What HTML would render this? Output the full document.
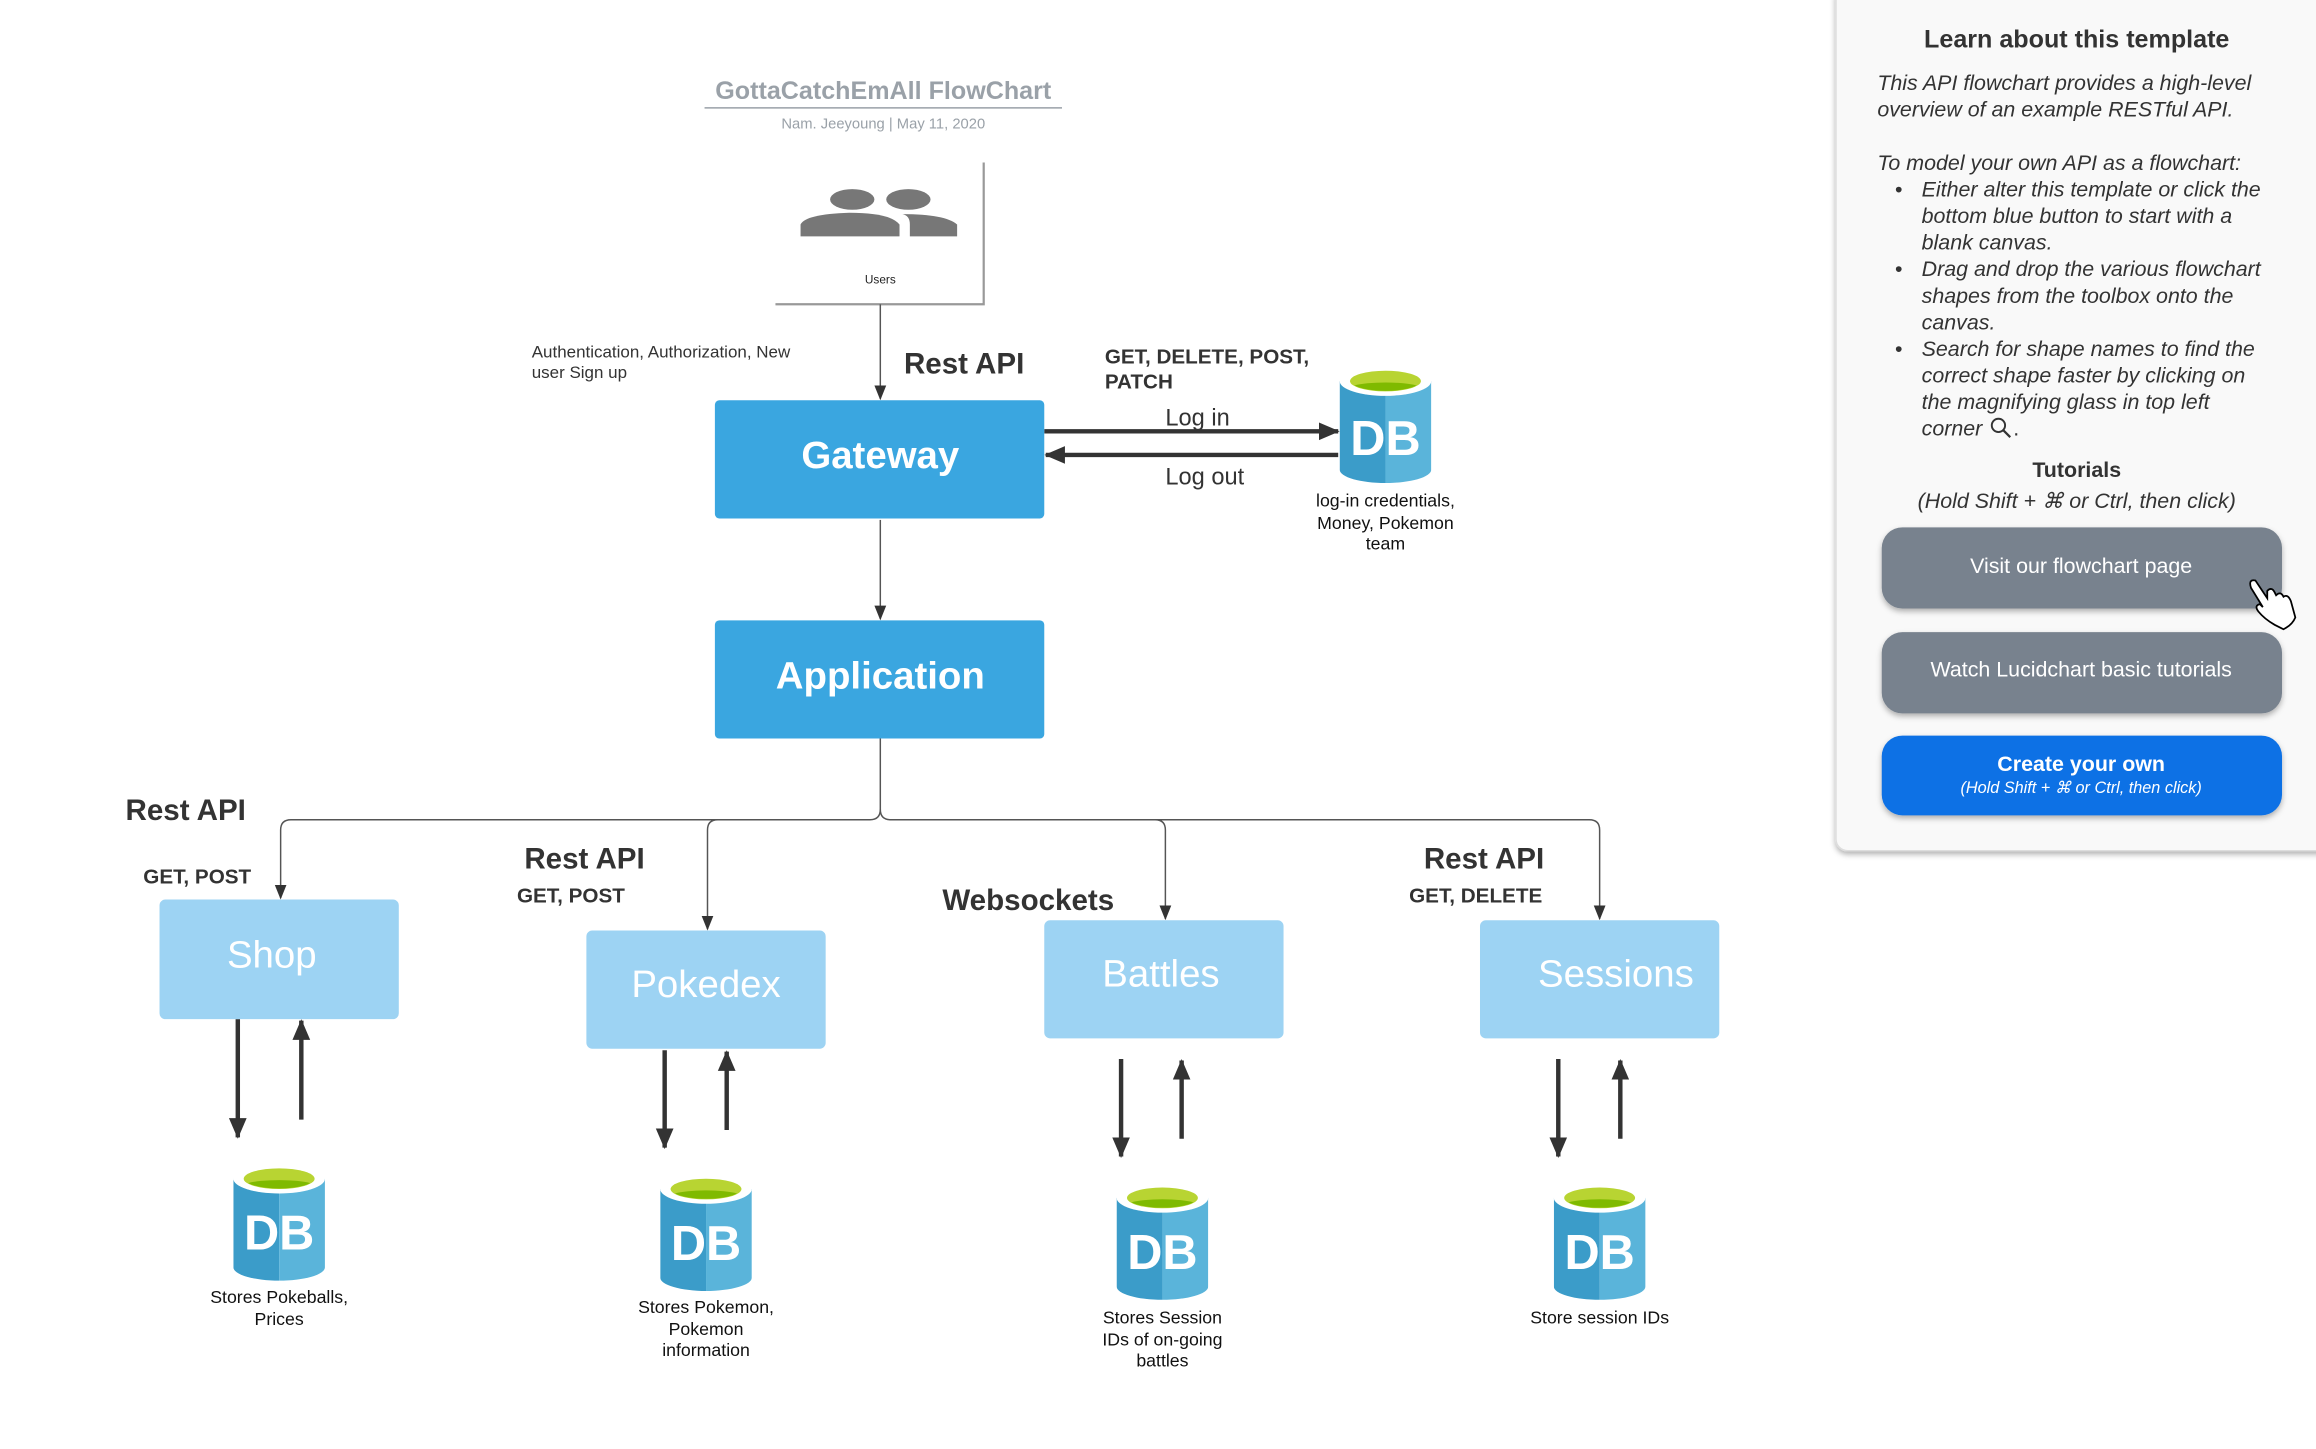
<!DOCTYPE html>
<html><head><meta charset="utf-8"><style>
html,body{margin:0;padding:0;background:#fff}
svg{display:block}
text{font-family:"Liberation Sans",sans-serif}
</style></head><body>
<svg width="2316" height="1449" viewBox="0 0 1568 981" xmlns="http://www.w3.org/2000/svg">
<defs>
<symbol id="db" viewBox="0 0 62 80">
<path d="M0 10 V70 A31 9 0 0 0 31 79 V10 Z" fill="#3b9cc9"/>
<path d="M31 10 V79 A31 9 0 0 0 62 70 V10 Z" fill="#5ab4da"/>
<ellipse cx="31" cy="10" rx="31" ry="10" fill="#fff"/>
<ellipse cx="31" cy="10" rx="24" ry="7" fill="#b8d432"/>
<path d="M10 13 A24 7 0 0 0 52 13 A24 4 0 0 0 10 13Z" fill="#7fba00"/>
</symbol>
<marker id="a" markerWidth="10" markerHeight="10" refX="9" refY="5" orient="auto" markerUnits="userSpaceOnUse"><path d="M0 1 L10 5 L0 9Z" fill="#333"/></marker>
<marker id="b" markerWidth="14" markerHeight="14" refX="13" refY="7" orient="auto" markerUnits="userSpaceOnUse"><path d="M0 1 L14 7 L0 13Z" fill="#333"/></marker>
<filter id="sh" x="-10%" y="-10%" width="130%" height="140%"><feDropShadow dx="0" dy="2" stdDeviation="2" flood-opacity="0.3"/></filter>
</defs>

<!-- title -->
<text x="598" y="67" text-anchor="middle" font-size="17" font-weight="bold" fill="#9aa1a8">GottaCatchEmAll FlowChart</text>
<line x1="477" y1="73" x2="719" y2="73" stroke="#9aa1a8" stroke-width="1"/>
<text x="598" y="87" text-anchor="middle" font-size="10" fill="#9aa1a8">Nam. Jeeyoung    |  May 11, 2020</text>

<!-- users -->
<rect x="525" y="110" width="141" height="96" fill="#fff"/>
<path d="M666 110 V206 H525" fill="none" stroke="#999" stroke-width="1.5"/>
<ellipse cx="577" cy="135" rx="15" ry="7" fill="#777"/>
<ellipse cx="615" cy="135" rx="15" ry="7" fill="#777"/>
<path d="M542 160 V152 Q545 145 575 144 Q603 144 609 152 V160Z" fill="#777"/>
<path d="M616 160 V152 Q616 146 611 145 Q640 145 648 152 V160Z" fill="#777"/>
<text x="596" y="192" text-anchor="middle" font-size="8" fill="#222">Users</text>

<!-- connectors -->
<line x1="596" y1="206" x2="596" y2="270" stroke="#555" stroke-width="1" marker-end="url(#a)"/>
<line x1="596" y1="352" x2="596" y2="419" stroke="#555" stroke-width="1" marker-end="url(#a)"/>
<path d="M596 500 V548 Q596 555 589 555 H197 Q190 555 190 562 V608" fill="none" stroke="#555" stroke-width="1" marker-end="url(#a)"/>
<path d="M596 548 Q596 555 603 555 H1076 Q1083 555 1083 562 V622" fill="none" stroke="#555" stroke-width="1" marker-end="url(#a)"/>
<path d="M486 555 Q479 555 479 562 V629" fill="none" stroke="#555" stroke-width="1" marker-end="url(#a)"/>
<path d="M782 555 Q789 555 789 562 V622" fill="none" stroke="#555" stroke-width="1" marker-end="url(#a)"/>

<line x1="707" y1="292" x2="906" y2="292" stroke="#333" stroke-width="3" marker-end="url(#b)"/>
<line x1="906" y1="308" x2="708" y2="308" stroke="#333" stroke-width="3" marker-end="url(#b)"/>

<g stroke="#333" stroke-width="3">
<line x1="161" y1="690" x2="161" y2="770" marker-end="url(#b)"/>
<line x1="204" y1="758" x2="204" y2="691" marker-end="url(#b)"/>
<line x1="450" y1="711" x2="450" y2="777" marker-end="url(#b)"/>
<line x1="492" y1="765" x2="492" y2="712" marker-end="url(#b)"/>
<line x1="759" y1="717" x2="759" y2="783" marker-end="url(#b)"/>
<line x1="800" y1="771" x2="800" y2="718" marker-end="url(#b)"/>
<line x1="1055" y1="717" x2="1055" y2="783" marker-end="url(#b)"/>
<line x1="1097" y1="771" x2="1097" y2="718" marker-end="url(#b)"/>
</g>

<!-- main boxes -->
<rect x="484" y="271" width="223" height="80" rx="3" fill="#3aa6e0"/>
<text x="596" y="317" text-anchor="middle" font-size="26" font-weight="bold" fill="#fff">Gateway</text>
<rect x="484" y="420" width="223" height="80" rx="3" fill="#3aa6e0"/>
<text x="596" y="466" text-anchor="middle" font-size="26" font-weight="bold" fill="#fff">Application</text>

<rect x="108" y="609" width="162" height="81" rx="4" fill="#9dd3f3"/>
<text x="184" y="655" text-anchor="middle" font-size="26" fill="#fff">Shop</text>
<rect x="397" y="630" width="162" height="80" rx="4" fill="#9dd3f3"/>
<text x="478" y="675" text-anchor="middle" font-size="26" fill="#fff">Pokedex</text>
<rect x="707" y="623" width="162" height="80" rx="4" fill="#9dd3f3"/>
<text x="786" y="668" text-anchor="middle" font-size="26" fill="#fff">Battles</text>
<rect x="1002" y="623" width="162" height="80" rx="4" fill="#9dd3f3"/>
<text x="1094" y="668" text-anchor="middle" font-size="26" fill="#fff">Sessions</text>

<!-- labels -->
<g fill="#333">
<text x="360" y="242" font-size="11.5">Authentication, Authorization, New</text>
<text x="360" y="256" font-size="11.5">user Sign up</text>
<text x="612" y="253" font-size="20" font-weight="bold">Rest API</text>
<text x="748" y="246" font-size="14" font-weight="bold">GET, DELETE, POST,</text>
<text x="748" y="263" font-size="14" font-weight="bold">PATCH</text>
<text x="789" y="288" font-size="16">Log in</text>
<text x="789" y="328" font-size="16">Log out</text>
<text x="85" y="555" font-size="20" font-weight="bold">Rest API</text>
<text x="97" y="598" font-size="14" font-weight="bold">GET, POST</text>
<text x="355" y="588" font-size="20" font-weight="bold">Rest API</text>
<text x="350" y="611" font-size="14" font-weight="bold">GET, POST</text>
<text x="638" y="616" font-size="20" font-weight="bold">Websockets</text>
<text x="964" y="588" font-size="20" font-weight="bold">Rest API</text>
<text x="954" y="611" font-size="14" font-weight="bold">GET, DELETE</text>
</g>

<!-- DBs -->
<use href="#db" x="907" y="248" width="62" height="80"/>
<text x="938" y="308" text-anchor="middle" font-size="33" font-weight="bold" fill="#fff">DB</text>
<g font-size="12" fill="#111" text-anchor="middle">
<text x="938" y="343">log-in credentials,</text><text x="938" y="358">Money, Pokemon</text><text x="938" y="372">team</text>
</g>

<use href="#db" x="158" y="788" width="62" height="80"/>
<text x="189" y="846" text-anchor="middle" font-size="33" font-weight="bold" fill="#fff">DB</text>
<g font-size="12" fill="#111" text-anchor="middle"><text x="189" y="882">Stores Pokeballs,</text><text x="189" y="897">Prices</text></g>

<use href="#db" x="447" y="795" width="62" height="80"/>
<text x="478" y="853" text-anchor="middle" font-size="33" font-weight="bold" fill="#fff">DB</text>
<g font-size="12" fill="#111" text-anchor="middle"><text x="478" y="889">Stores Pokemon,</text><text x="478" y="904">Pokemon</text><text x="478" y="918">information</text></g>

<use href="#db" x="756" y="801" width="62" height="80"/>
<text x="787" y="859" text-anchor="middle" font-size="33" font-weight="bold" fill="#fff">DB</text>
<g font-size="12" fill="#111" text-anchor="middle"><text x="787" y="896">Stores Session</text><text x="787" y="911">IDs of on-going</text><text x="787" y="925">battles</text></g>

<use href="#db" x="1052" y="801" width="62" height="80"/>
<text x="1083" y="859" text-anchor="middle" font-size="33" font-weight="bold" fill="#fff">DB</text>
<g font-size="12" fill="#111" text-anchor="middle"><text x="1083" y="896">Store session IDs</text></g>

<!-- panel -->
<rect x="1243" y="-10" width="340" height="586" rx="8" fill="#f9f9f9" stroke="#ddd" filter="url(#sh)"/>
<text x="1406" y="32" text-anchor="middle" font-size="17" font-weight="bold" fill="#333">Learn about this template</text>
<g font-size="14.5" font-style="italic" fill="#333">
<text x="1271" y="61">This API flowchart provides a high-level</text>
<text x="1271" y="79">overview of an example RESTful API.</text>
<text x="1271" y="115">To model your own API as a flowchart:</text>
<text x="1283" y="133" font-style="normal">•</text><text x="1301" y="133">Either alter this template or click the</text>
<text x="1301" y="151">bottom blue button to start with a</text>
<text x="1301" y="169">blank canvas.</text>
<text x="1283" y="187" font-style="normal">•</text><text x="1301" y="187">Drag and drop the various flowchart</text>
<text x="1301" y="205">shapes from the toolbox onto the</text>
<text x="1301" y="223">canvas.</text>
<text x="1283" y="241" font-style="normal">•</text><text x="1301" y="241">Search for shape names to find the</text>
<text x="1301" y="259">correct shape faster by clicking on</text>
<text x="1301" y="277">the magnifying glass in top left</text>
<text x="1301" y="295">corner</text>
<text x="1363" y="295" font-style="normal">.</text>
</g>
<circle cx="1353" cy="288" r="4.5" fill="none" stroke="#333" stroke-width="1.3"/><line x1="1356" y1="291" x2="1361" y2="296" stroke="#333" stroke-width="1.5"/>
<text x="1406" y="323" text-anchor="middle" font-size="14.5" font-weight="bold" fill="#333">Tutorials</text>
<text x="1406" y="344" text-anchor="middle" font-size="14.5" font-style="italic" fill="#333">(Hold Shift + ⌘ or Ctrl, then click)</text>

<rect x="1274" y="357" width="271" height="55" rx="14" fill="#78828e" filter="url(#sh)"/>
<text x="1409" y="388" text-anchor="middle" font-size="14.5" fill="#fff">Visit our flowchart page</text>
<rect x="1274" y="428" width="271" height="55" rx="14" fill="#78828e" filter="url(#sh)"/>
<text x="1409" y="458" text-anchor="middle" font-size="14.5" fill="#fff">Watch Lucidchart basic tutorials</text>
<rect x="1274" y="498" width="271" height="54" rx="14" fill="#1071e5" filter="url(#sh)"/>
<text x="1409" y="522" text-anchor="middle" font-size="14.5" font-weight="bold" fill="#fff">Create your own</text>
<text x="1409" y="537" text-anchor="middle" font-size="11" font-style="italic" fill="#fff">(Hold Shift + ⌘ or Ctrl, then click)</text>

<!-- hand cursor -->
<path d="M1524 398 Q1522 392 1527 393 L1535 405 L1535 400 Q1538 397 1540 401 L1541 403 Q1544 400 1546 404 Q1549 402 1551 407 L1554 418 Q1552 423 1546 426 L1540 423 Q1533 419 1529 414 Q1526 410 1530 409 L1532 411Z" fill="#fff" stroke="#000" stroke-width="1.2"/>
</svg>
</body></html>
